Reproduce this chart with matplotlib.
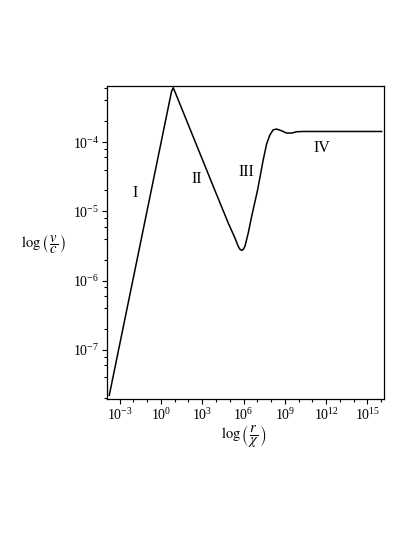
import numpy as np
import matplotlib
matplotlib.use("Agg")
import matplotlib.pyplot as plt
from matplotlib.ticker import LogLocator, LogFormatterMathtext, NullFormatter, FixedLocator

plt.rcParams['font.family'] = ['Liberation Serif', 'DejaVu Serif']
plt.rcParams['mathtext.fontset'] = 'stix'

# curve, as log10(r/chi) and log10(v/c)
log_r = [-3.755, 0.763, 0.893, 1.017, 3.922, 4.887, 5.374, 5.614, 5.723, 5.861,
         5.977, 6.100, 6.340, 6.587, 7.023, 7.429, 7.676, 7.916, 8.155, 8.402,
         8.765, 9.128, 9.492, 9.855, 10.334, 12.273, 16.028]
log_v = [-7.657, -3.274, -3.216, -3.274, -4.700, -5.169, -5.385, -5.506, -5.545, -5.564,
         -5.550, -5.506, -5.313, -5.074, -4.688, -4.255, -4.025, -3.895, -3.823, -3.812,
         -3.837, -3.870, -3.870, -3.851, -3.847, -3.847, -3.847]

regions = ['I', 'II', 'III', 'IV']
region_x = [-1.87, 2.59, 6.22, 11.69]
region_y = [-4.73, -4.54, -4.43, -4.09]

r = 10.0 ** np.array(log_r)
v = 10.0 ** np.array(log_v)

fig = plt.figure(figsize=(4.15, 5.37), dpi=100)
ax = fig.add_axes([0.2578, 0.2570, 0.6675, 0.5829])

ax.plot(r, v, color='black', lw=1.1)

ax.set_xscale('log')
ax.set_yscale('log')
ax.set_xlim(10 ** -3.92, 10 ** 16.2)
ax.set_ylim(10 ** -7.71, 10 ** -3.19)

for lab, lx, ly in zip(regions, region_x, region_y):
    ax.text(10 ** lx, 10 ** ly, lab, ha='center', va='center', fontsize=11.5)

# ticks: labelled every third decade on x, minor every decade
ax.xaxis.set_major_locator(FixedLocator([10.0 ** k for k in range(-3, 17, 3)]))
ax.xaxis.set_minor_locator(FixedLocator([10.0 ** k for k in range(-4, 17) if k % 3 != 0]))
ax.xaxis.set_major_formatter(LogFormatterMathtext())
ax.xaxis.set_minor_formatter(NullFormatter())
ax.yaxis.set_major_locator(LogLocator(base=10, numticks=20))
ax.yaxis.set_minor_locator(LogLocator(base=10, subs=(2, 4, 6, 8), numticks=20))
ax.yaxis.set_minor_formatter(NullFormatter())

ax.tick_params(which='both', direction='out', top=False, right=False,
               labelsize=10, pad=2, width=0.8)
ax.tick_params(which='major', length=3.5)
ax.tick_params(which='minor', length=2.5)
for s in ax.spines.values():
    s.set_linewidth(0.9)

fig.text(44 / 415, 1 - 245 / 537, r'$\log\left(\,\dfrac{v}{c}\,\right)$',
         ha='center', va='center', fontsize=10.5)
fig.text(244 / 415, 1 - 437 / 537, r'$\log\left(\,\dfrac{r}{\chi}\,\right)$',
         ha='center', va='center', fontsize=10.5)

fig.savefig('out.png', dpi=100)
